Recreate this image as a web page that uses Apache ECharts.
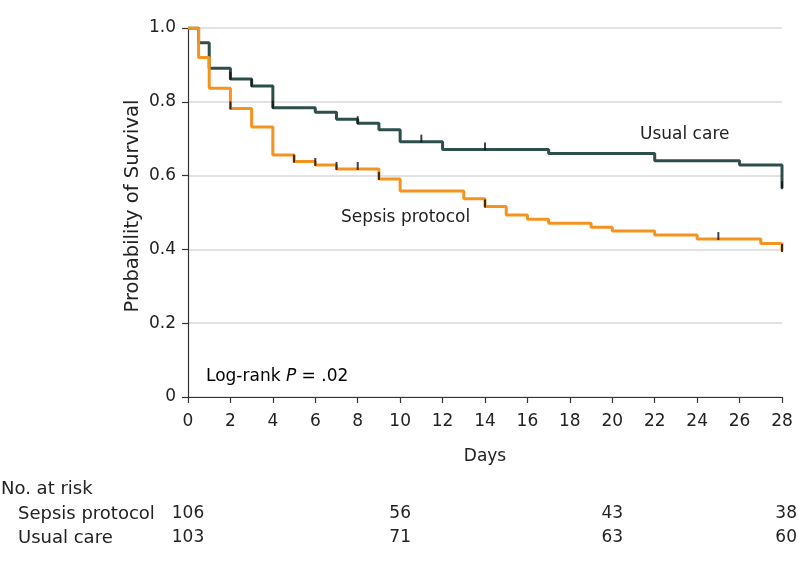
<!DOCTYPE html>
<html><head><meta charset="utf-8">
<script src="https://cdn.jsdelivr.net/npm/echarts@6/dist/echarts.min.js"></script>
<style>html,body{margin:0;padding:0;background:#fff}#c{width:798px;height:567px}</style>
</head><body><div id="c"></div>
<script>
// Kaplan-Meier step data (time in days, survival probability)
const usualTimes    = [0, 0.5, 1, 2, 3, 4, 6, 7, 8, 9, 10, 12, 17, 22, 26, 28];
const usualSurv     = [1.0, 0.96, 0.891, 0.862, 0.843, 0.784, 0.772, 0.753, 0.742, 0.724, 0.692, 0.671, 0.660, 0.640, 0.629, 0.566];
const sepsisTimes   = [0, 0.5, 1, 2, 3, 4, 5, 6, 7, 9, 10, 13, 14, 15, 16, 17, 19, 20, 22, 24, 27, 28];
const sepsisSurv    = [1.0, 0.92, 0.837, 0.782, 0.732, 0.656, 0.638, 0.629, 0.618, 0.591, 0.558, 0.537, 0.516, 0.493, 0.482, 0.471, 0.460, 0.450, 0.439, 0.428, 0.416, 0.396];
// censoring marks (days)
const usualCensor   = [2, 3, 4, 8, 11, 14, 28];
const sepsisCensor  = [2, 5, 6, 7, 8, 9, 14, 25, 28];
// number at risk table
const riskDays      = [0, 10, 20, 28];
const riskSepsis    = [106, 56, 43, 38];
const riskUsual     = [103, 71, 63, 60];

const FONT = 'DejaVu Sans';
const GREEN = '#2d4f4b';
const ORANGE = '#f4931f';

function pairs(t, s) { return t.map((x, i) => [x, s[i]]); }
function survAt(t, s, day) {
  let v = s[0];
  for (let i = 0; i < t.length; i++) { if (t[i] <= day) v = s[i]; }
  return v;
}
function censorPts(c, t, s) { return c.map(d => [d, survAt(t, s, d)]); }

const chart = echarts.init(document.getElementById('c'), null, {renderer: 'canvas'});
const option = {
  animation: false,
  grid: {left: 188, right: 16, top: 28, bottom: 170},
  textStyle: {fontFamily: FONT},
  xAxis: {
    type: 'value', min: 0, max: 28, interval: 2,
    name: 'Days', nameLocation: 'middle', nameGap: 51,
    nameTextStyle: {fontFamily: FONT, fontSize: 17, color: '#222'},
    axisLine: {show: true, lineStyle: {color: '#333', width: 1.2}},
    axisTick: {show: true, length: 6, lineStyle: {color: '#333', width: 1.2}},
    axisLabel: {fontFamily: FONT, fontSize: 17, color: '#222', margin: 16},
    splitLine: {show: false}
  },
  yAxis: {
    type: 'value', min: 0, max: 1, interval: 0.2,
    axisLine: {show: true, lineStyle: {color: '#333', width: 1.2}},
    axisTick: {show: true, length: 6, lineStyle: {color: '#333', width: 1.2}},
    axisLabel: {fontFamily: FONT, fontSize: 17, color: '#222', margin: 12,
      formatter: v => v === 0 ? '0' : v.toFixed(1)},
    splitLine: {show: true, lineStyle: {color: '#d9d9d9', width: 1.5}}
  },
  series: [
    {type: 'line', name: 'Usual care', step: 'end', data: pairs(usualTimes, usualSurv),
     showSymbol: false, symbol: 'none', lineStyle: {color: GREEN, width: 3}, z: 2},
    {type: 'line', name: 'Sepsis protocol', step: 'end', data: pairs(sepsisTimes, sepsisSurv),
     showSymbol: false, symbol: 'none', lineStyle: {color: ORANGE, width: 3}, z: 3},
    {type: 'scatter', data: censorPts(usualCensor, usualTimes, usualSurv),
     symbol: 'rect', symbolSize: [2, 8], symbolOffset: [0, -3], itemStyle: {color: '#111'}, z: 5},
    {type: 'scatter', data: censorPts(sepsisCensor, sepsisTimes, sepsisSurv),
     symbol: 'rect', symbolSize: [2, 8], symbolOffset: [0, -3], itemStyle: {color: '#111'}, z: 5}
  ]
};
chart.setOption(option);

function txt(x, y, s, size, align) {
  return {
    type: 'text', x: x, y: y,
    style: {text: s, fontFamily: FONT, fontSize: size, fill: '#222',
            verticalAlign: 'middle', textVerticalAlign: 'middle',
            align: align || 'left', textAlign: align || 'left'}
  };
}

const graphics = [];
graphics.push({
  type: 'text', x: 133, y: 206, rotation: Math.PI / 2,
  style: {text: 'Probability of Survival', fontFamily: FONT, fontSize: 19.5, fill: '#222',
          align: 'center', textAlign: 'center', verticalAlign: 'middle', textVerticalAlign: 'middle'}
});
graphics.push(txt(640, 135, 'Usual care', 17));
graphics.push(txt(341, 218, 'Sepsis protocol', 17));
graphics.push({
  type: 'text', x: 206, y: 377,
  style: {
    text: '{n|Log-rank }{i|P}{n| = .02}',
    verticalAlign: 'middle',
    rich: {
      n: {fontFamily: FONT, fontSize: 17, color: '#222'},
      i: {fontFamily: FONT, fontSize: 17, color: '#222', fontStyle: 'italic'}
    }
  }
});
graphics.push(txt(1, 489, 'No. at risk', 18));
graphics.push(txt(18, 514, 'Sepsis protocol', 18));
graphics.push(txt(18, 538, 'Usual care', 18));
riskDays.forEach((d, i) => {
  const px = chart.convertToPixel({xAxisIndex: 0}, d);
  const last = i === riskDays.length - 1;
  const align = last ? 'right' : 'center';
  const xx = last ? 797 : px;
  graphics.push(txt(xx, 514, String(riskSepsis[i]), 17, align));
  graphics.push(txt(xx, 538, String(riskUsual[i]), 17, align));
});
chart.setOption({graphic: graphics});
</script></body></html>
